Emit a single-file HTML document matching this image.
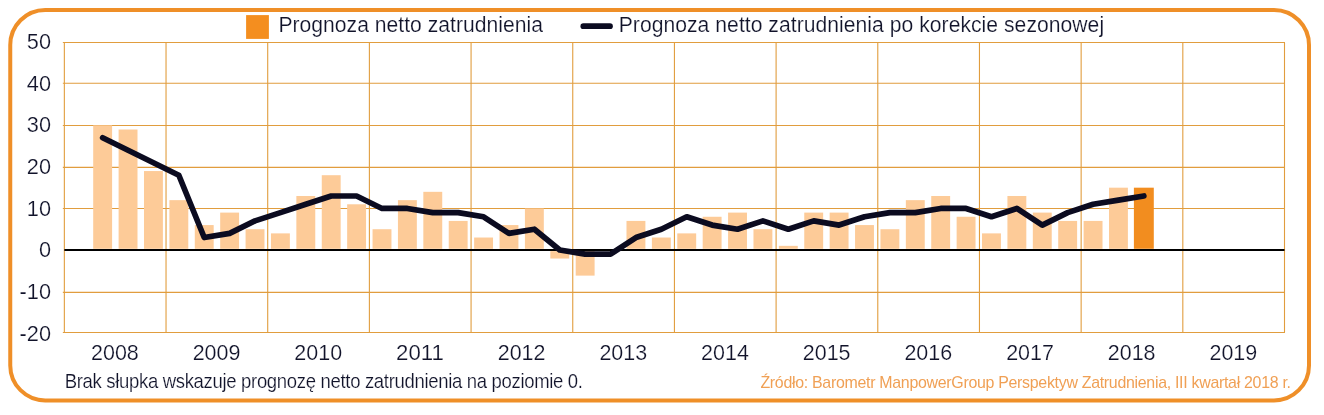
<!DOCTYPE html>
<html lang="pl"><head><meta charset="utf-8"><title>Prognoza netto zatrudnienia</title>
<style>html,body{margin:0;padding:0;background:#fff}body{width:1324px;height:415px;overflow:hidden}svg{display:block}text{font-family:"Liberation Sans",sans-serif}</style></head><body>
<svg width="1324" height="415" viewBox="0 0 1324 415">
<rect x="0" y="0" width="1324" height="415" fill="#ffffff"/>
<rect x="10.25" y="10" width="1298.75" height="390.4" rx="35" ry="35" fill="none" stroke="#ef8f28" stroke-width="4"/>
<g stroke="#e19d3e" stroke-width="1.1" fill="none">
<line x1="62.85" y1="42.45" x2="1285.00" y2="42.45"/>
<line x1="62.85" y1="83.30" x2="1285.00" y2="83.30"/>
<line x1="62.85" y1="125.45" x2="1285.00" y2="125.45"/>
<line x1="62.85" y1="167.35" x2="1285.00" y2="167.35"/>
<line x1="62.85" y1="208.50" x2="1285.00" y2="208.50"/>
<line x1="62.85" y1="292.40" x2="1285.00" y2="292.40"/>
<line x1="62.85" y1="332.55" x2="1285.00" y2="332.55"/>
<line x1="64.35" y1="42.45" x2="64.35" y2="332.45"/>
<line x1="166.03" y1="42.45" x2="166.03" y2="332.45"/>
<line x1="267.71" y1="42.45" x2="267.71" y2="332.45"/>
<line x1="369.39" y1="42.45" x2="369.39" y2="332.45"/>
<line x1="471.07" y1="42.45" x2="471.07" y2="332.45"/>
<line x1="572.75" y1="42.45" x2="572.75" y2="332.45"/>
<line x1="674.43" y1="42.45" x2="674.43" y2="332.45"/>
<line x1="776.10" y1="42.45" x2="776.10" y2="332.45"/>
<line x1="877.78" y1="42.45" x2="877.78" y2="332.45"/>
<line x1="979.46" y1="42.45" x2="979.46" y2="332.45"/>
<line x1="1081.14" y1="42.45" x2="1081.14" y2="332.45"/>
<line x1="1182.82" y1="42.45" x2="1182.82" y2="332.45"/>
<line x1="1284.50" y1="42.45" x2="1284.50" y2="332.45"/>
</g>
<g fill="#fdcb98">
<rect x="93.20" y="125.35" width="18.90" height="123.45"/>
<rect x="118.60" y="129.50" width="18.90" height="119.30"/>
<rect x="143.99" y="171.06" width="18.90" height="77.75"/>
<rect x="169.39" y="200.14" width="18.90" height="48.66"/>
<rect x="194.78" y="225.07" width="18.90" height="23.73"/>
<rect x="220.18" y="212.60" width="18.90" height="36.20"/>
<rect x="245.57" y="229.22" width="18.90" height="19.58"/>
<rect x="270.96" y="233.38" width="18.90" height="15.42"/>
<rect x="296.36" y="195.99" width="18.90" height="52.81"/>
<rect x="321.76" y="175.21" width="18.90" height="73.59"/>
<rect x="347.15" y="204.29" width="18.90" height="44.51"/>
<rect x="372.55" y="229.22" width="18.90" height="19.58"/>
<rect x="397.94" y="200.14" width="18.90" height="48.66"/>
<rect x="423.33" y="191.83" width="18.90" height="56.97"/>
<rect x="448.73" y="220.91" width="18.90" height="27.89"/>
<rect x="474.13" y="237.53" width="18.90" height="11.27"/>
<rect x="499.52" y="225.07" width="18.90" height="23.73"/>
<rect x="524.91" y="208.45" width="18.90" height="40.35"/>
<rect x="550.31" y="251.10" width="18.90" height="7.44"/>
<rect x="575.70" y="251.10" width="18.90" height="24.52"/>
<rect x="626.49" y="220.91" width="18.90" height="27.89"/>
<rect x="651.89" y="237.53" width="18.90" height="11.27"/>
<rect x="677.28" y="233.38" width="18.90" height="15.42"/>
<rect x="702.68" y="216.76" width="18.90" height="32.04"/>
<rect x="728.07" y="212.60" width="18.90" height="36.20"/>
<rect x="753.47" y="229.22" width="18.90" height="19.58"/>
<rect x="778.86" y="245.84" width="18.90" height="2.96"/>
<rect x="804.26" y="212.60" width="18.90" height="36.20"/>
<rect x="829.65" y="212.60" width="18.90" height="36.20"/>
<rect x="855.05" y="225.07" width="18.90" height="23.73"/>
<rect x="880.44" y="229.22" width="18.90" height="19.58"/>
<rect x="905.84" y="200.14" width="18.90" height="48.66"/>
<rect x="931.23" y="195.99" width="18.90" height="52.81"/>
<rect x="956.63" y="216.76" width="18.90" height="32.04"/>
<rect x="982.02" y="233.38" width="18.90" height="15.42"/>
<rect x="1007.42" y="195.99" width="18.90" height="52.81"/>
<rect x="1032.82" y="212.60" width="18.90" height="36.20"/>
<rect x="1058.21" y="220.91" width="18.90" height="27.89"/>
<rect x="1083.61" y="220.91" width="18.90" height="27.89"/>
<rect x="1109.00" y="187.68" width="18.90" height="61.12"/>
<rect x="1133.89" y="187.68" width="19.90" height="61.12" fill="#f28d1f"/>
</g>
<line x1="64.35" y1="249.95" x2="1284.50" y2="249.95" stroke="#000000" stroke-width="2.1"/>
<polyline points="102.65,137.81 128.05,150.28 153.44,162.75 178.84,175.21 204.23,237.53 229.62,233.38 255.02,220.91 280.41,212.60 305.81,204.29 331.21,195.99 356.60,195.99 382.00,208.45 407.39,208.45 432.78,212.60 458.18,212.60 483.58,216.76 508.97,233.38 534.37,229.22 559.76,250.00 585.15,254.16 610.55,254.16 635.94,237.53 661.34,229.22 686.74,216.76 712.13,225.07 737.52,229.22 762.92,220.91 788.31,229.22 813.71,220.91 839.11,225.07 864.50,216.76 889.89,212.60 915.29,212.60 940.68,208.45 966.08,208.45 991.47,216.76 1016.87,208.45 1042.27,225.07 1067.66,212.60 1093.06,204.29 1118.45,200.14 1143.85,195.99" fill="none" stroke="#0b0b20" stroke-width="5.7" stroke-linejoin="round" stroke-linecap="round"/>
<g fill="#11132a" font-size="21.4" text-anchor="end" stroke="#ffffff" stroke-width="0.2" paint-order="fill stroke">
<text x="51" y="49.10" textLength="24.15" lengthAdjust="spacingAndGlyphs">50</text>
<text x="51" y="90.77" textLength="24.15" lengthAdjust="spacingAndGlyphs">40</text>
<text x="51" y="132.44" textLength="24.15" lengthAdjust="spacingAndGlyphs">30</text>
<text x="51" y="174.11" textLength="24.15" lengthAdjust="spacingAndGlyphs">20</text>
<text x="51" y="215.78" textLength="24.15" lengthAdjust="spacingAndGlyphs">10</text>
<text x="51" y="257.45" textLength="12.08" lengthAdjust="spacingAndGlyphs">0</text>
<text x="51" y="299.12" textLength="31.39" lengthAdjust="spacingAndGlyphs">-10</text>
<text x="51" y="340.79" textLength="31.39" lengthAdjust="spacingAndGlyphs">-20</text>
</g>
<g fill="#11132a" font-size="21.4" text-anchor="middle" stroke="#ffffff" stroke-width="0.2" paint-order="fill stroke">
<text x="114.89" y="359.5" textLength="47.74" lengthAdjust="spacingAndGlyphs">2008</text>
<text x="216.57" y="359.5" textLength="47.74" lengthAdjust="spacingAndGlyphs">2009</text>
<text x="318.25" y="359.5" textLength="47.74" lengthAdjust="spacingAndGlyphs">2010</text>
<text x="419.93" y="359.5" textLength="47.74" lengthAdjust="spacingAndGlyphs">2011</text>
<text x="521.61" y="359.5" textLength="47.74" lengthAdjust="spacingAndGlyphs">2012</text>
<text x="623.29" y="359.5" textLength="47.74" lengthAdjust="spacingAndGlyphs">2013</text>
<text x="724.96" y="359.5" textLength="47.74" lengthAdjust="spacingAndGlyphs">2014</text>
<text x="826.64" y="359.5" textLength="47.74" lengthAdjust="spacingAndGlyphs">2015</text>
<text x="928.32" y="359.5" textLength="47.74" lengthAdjust="spacingAndGlyphs">2016</text>
<text x="1030.00" y="359.5" textLength="47.74" lengthAdjust="spacingAndGlyphs">2017</text>
<text x="1131.68" y="359.5" textLength="47.74" lengthAdjust="spacingAndGlyphs">2018</text>
<text x="1233.36" y="359.5" textLength="47.74" lengthAdjust="spacingAndGlyphs">2019</text>
</g>
<rect x="246.1" y="15.1" width="22.8" height="23.8" fill="#f48e1f"/>
<text transform="translate(278.4,32.45) scale(0.948,1)" font-size="22.3" fill="#11132a" stroke="#ffffff" stroke-width="0.2" paint-order="fill stroke" textLength="279.01" lengthAdjust="spacing">Prognoza netto zatrudnienia</text>
<line x1="583.3" y1="26.2" x2="610" y2="26.2" stroke="#0b0b20" stroke-width="5.7" stroke-linecap="round"/>
<text transform="translate(618.7,32.45) scale(0.948,1)" font-size="22.3" fill="#11132a" stroke="#ffffff" stroke-width="0.2" paint-order="fill stroke" textLength="512.03" lengthAdjust="spacing">Prognoza netto zatrudnienia po korekcie sezonowej</text>
<text transform="translate(64.7,387.8) scale(0.955,1)" font-size="19.4" fill="#11132a" stroke="#ffffff" stroke-width="0.2" paint-order="fill stroke" textLength="542.72" lengthAdjust="spacing">Brak słupka wskazuje prognozę netto zatrudnienia na poziomie 0.</text>
<text transform="translate(760.4,387.6) scale(0.96,1)" font-size="16.6" fill="#f0a055"  textLength="552.71" lengthAdjust="spacing">Źródło: Barometr ManpowerGroup Perspektyw Zatrudnienia, III kwartał 2018 r.</text>
</svg></body></html>
